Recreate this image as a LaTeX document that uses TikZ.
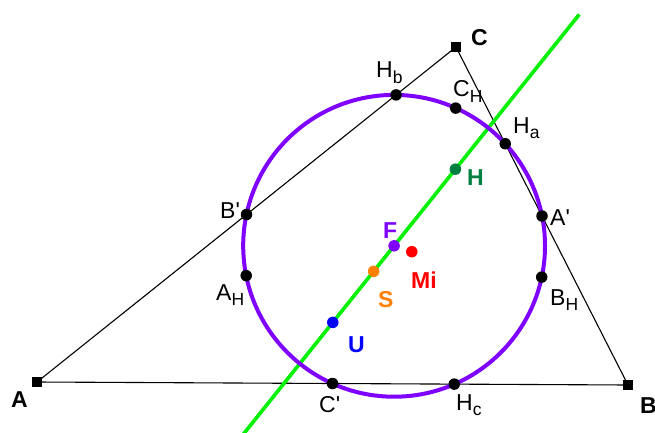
\documentclass[tikz,border=0pt]{standalone}
\usepackage{fontspec}
\setmainfont{Liberation Sans}
\usepackage{tikz}
\usetikzlibrary{calc}
\definecolor{npcol}{RGB}{127,0,255}
\definecolor{eulcol}{RGB}{0,240,0}
\definecolor{hcol}{RGB}{0,128,64}
\definecolor{scol}{RGB}{255,128,0}
\newcommand{\lsub}[1]{\raisebox{-5.5pt}{\fontsize{17.5}{18}\selectfont #1}}
\newcommand{\pr}{\textquotesingle}

\begin{document}
\begin{tikzpicture}[
  x=1pt, y=1pt,
  every node/.style={font=\fontsize{23}{26}\selectfont},
  lbl/.style={anchor=base west, inner sep=0pt},
  blbl/.style={lbl, font=\fontsize{23}{26}\selectfont\bfseries},
  vx/.style={fill=black, minimum size=9.5pt, inner sep=0pt},
  pt/.style={circle, fill=#1, minimum size=11.5pt, inner sep=0pt},
  pt/.default=black,
  side/.style={line width=1.1pt},
  npc/.style={draw=npcol, line width=4pt},
  euler/.style={draw=eulcol, line width=3.6pt}
]
  \useasboundingbox (0,0) rectangle (655,432);

  % triangle and special points
  \coordinate (A) at (37,50);
  \coordinate (B) at (628,47);
  \coordinate (C) at (456,385);
  \coordinate (U) at (332.8,109.6);
  \coordinate (Mi) at (411.8,180.3);
  \coordinate (H) at ($(A)+(B)+(C)-2*(U)$);
  \coordinate (F) at ($(U)!0.5!(H)$);
  \coordinate (Am) at ($(B)!0.5!(C)$);
  \coordinate (Bm) at ($(A)!0.5!(C)$);
  \coordinate (Cm) at ($(A)!0.5!(B)$);
  \coordinate (S) at ($(C)!2/3!(Cm)$);
  \coordinate (Ha) at ($(B)!(A)!(C)$);
  \coordinate (Hb) at ($(C)!(B)!(A)$);
  \coordinate (Hc) at ($(A)!(C)!(B)$);
  \coordinate (AH) at ($(A)!0.5!(H)$);
  \coordinate (BH) at ($(B)!0.5!(H)$);
  \coordinate (CH) at ($(C)!0.5!(H)$);
  \coordinate (e1) at ($(U)!-0.75!(H)$);
  \coordinate (e2) at ($(U)!2.01!(H)$);

  \draw[side] (A) -- (B) -- (C) -- cycle;
  \draw[euler] (e1) -- (e2);
  \draw[npc] (F) circle (150.9);

  \foreach \v in {A, B, C}
    \node[vx] (v\v) at (\v) {};
  \foreach \p in {Am, Bm, Cm, Ha, Hb, Hc, AH, BH, CH}
    \node[pt] (d\p) at (\p) {};
  \node[pt=hcol] (dH) at (H) {};
  \node[pt=npcol] (dF) at (F) {};
  \node[pt=scol] (dS) at (S) {};
  \node[pt=red] (dMi) at (Mi) {};
  \node[pt=blue] (dU) at (U) {};

  % labels
  \node[blbl] (tA) at (11,25) {A};
  \node[blbl] (tB) at (640,19) {B};
  \node[blbl] (tC) at (471,386) {C};
  \node[lbl] (tHb) at (376,354) {H\lsub{b}};
  \node[lbl] (tCH) at (453,335) {C\lsub{H}};
  \node[lbl] (tHa) at (513,299) {H\lsub{a}};
  \node[blbl, text=hcol] (tH) at (467,247) {H};
  \node[lbl] (tAm) at (550,207) {A\pr};
  \node[lbl] (tBm) at (220,214) {B\pr};
  \node[blbl, text=npcol] (tF) at (383,194) {F};
  \node[blbl, text=red] (tMi) at (411,144) {Mi};
  \node[blbl, text=scol] (tS) at (378,125) {S};
  \node[lbl] (tAH) at (216,132) {A\lsub{H}};
  \node[lbl] (tBH) at (550,127) {B\lsub{H}};
  \node[blbl, text=blue] (tU) at (348,80) {U};
  \node[lbl] (tCm) at (319,20) {C\pr};
  \node[lbl] (tHc) at (456,22) {H\lsub{c}};
\end{tikzpicture}
\end{document}
